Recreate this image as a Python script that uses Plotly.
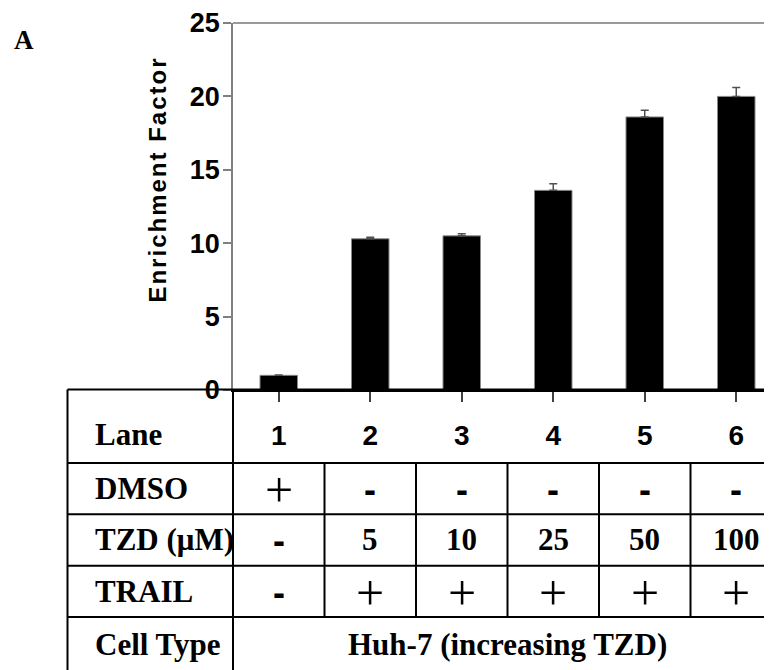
import plotly.graph_objects as go

# ---------------- data ----------------
lanes = ["1", "2", "3", "4", "5", "6"]
enrichment = [1.0, 10.3, 10.5, 13.6, 18.6, 20.0]
enrichment_err = [0.03, 0.1, 0.15, 0.45, 0.45, 0.6]
y_ticks = [0, 5, 10, 15, 20, 25]

row_labels = ["Lane", "DMSO", "TZD (μM)", "TRAIL", "Cell Type"]
dmso = ["+", "-", "-", "-", "-", "-"]
tzd = ["-", "5", "10", "25", "50", "100"]
trail = ["-", "+", "+", "+", "+", "+"]
cell_type = "Huh-7 (increasing TZD)"
panel_label = "A"
y_title = "Enrichment Factor"

# ---------------- geometry / styles ----------------
OFF = 8                      # page body margin
W, H = 772 - OFF, 670 - OFF
L, T = 233 - OFF, 15 - OFF
B = H - (390 - OFF)
PW, PH = W - L, H - T - B
CAT_PX = 91.5
SERIF = "Liberation Serif, Times New Roman, serif"
SANS = "Liberation Sans, Arial, sans-serif"


def px(xp):
    """page x pixel -> paper"""
    return (xp - OFF - L) / PW


def py(yp):
    """page y pixel -> paper"""
    return (H - B - (yp - OFF)) / PH


fig = go.Figure()
fig.add_trace(go.Bar(
    x=list(range(len(lanes))), y=enrichment,
    marker=dict(color="black", line=dict(color="#8a8a8a", width=1)),
    width=0.41,
    error_y=dict(type="data", array=enrichment_err, symmetric=False,
                 arrayminus=[0] * len(lanes), color="#505050",
                 thickness=1.5, width=4),
    showlegend=False, hoverinfo="x+y",
))

shapes = []
annotations = []
black = dict(color="black", width=2)

# top line at y max
shapes.append(dict(type="line", xref="paper", yref="paper", x0=0, x1=1, y0=1, y1=1,
                   line=dict(color="#9a9a9a", width=2)))
# table grid: horizontal lines
row_edges_px = [389.5, 464.5, 517, 569.5, 622]
for yp in row_edges_px:
    shapes.append(dict(type="line", xref="paper", yref="paper", x0=px(67.5), x1=1,
                       y0=py(yp), y1=py(yp), line=black))
# left border and label divider
for xp in (67.5, 233):
    shapes.append(dict(type="line", xref="paper", yref="paper", x0=px(xp), x1=px(xp),
                       y0=py(389.5), y1=py(680), line=black))
# column dividers for treatment rows
for i in range(len(lanes) - 1):
    shapes.append(dict(type="line", xref="x", yref="paper", x0=i + 0.5, x1=i + 0.5,
                       y0=py(row_edges_px[1]), y1=py(row_edges_px[4]), line=black))

# row labels
row_centers_px = [435, 491, 543, 596, 650]
for lab, yc in zip(row_labels, row_centers_px):
    annotations.append(dict(text="<b>" + lab + "</b>", xref="paper", yref="paper",
                            x=px(93), y=py(yc), xanchor="left", yanchor="middle",
                            showarrow=False, font=dict(family=SERIF, size=31, color="black")))


def cell(txt, i, yc):
    if txt == "+":
        return dict(text="+", xref="x", yref="paper", x=i, y=py(yc + 1), xanchor="center",
                    yanchor="middle", showarrow=False,
                    font=dict(family=SERIF, size=50, color="black"))
    if txt == "-":
        return dict(text="<b>-</b>", xref="x", yref="paper", x=i, y=py(yc + 1),
                    xanchor="center", yanchor="middle", showarrow=False,
                    font=dict(family=SANS, size=36, color="black"))
    return dict(text="<b>" + txt + "</b>", xref="x", yref="paper", x=i, y=py(yc),
                xanchor="center", yanchor="middle", showarrow=False,
                font=dict(family=SERIF, size=31, color="black"))


for r, vals in zip([1, 2, 3], [dmso, tzd, trail]):
    for i, v in enumerate(vals):
        annotations.append(cell(v, i, row_centers_px[r]))

annotations.append(dict(text="<b>" + cell_type + "</b>", xref="x", yref="paper",
                        x=(len(lanes) - 1) / 2, y=py(row_centers_px[4]),
                        xanchor="center", yanchor="middle", showarrow=False,
                        font=dict(family=SERIF, size=31, color="black")))

# panel label
annotations.append(dict(text="<b>" + panel_label + "</b>", xref="paper", yref="paper",
                        x=px(24), y=py(32), xanchor="center", yanchor="middle",
                        showarrow=False, font=dict(family=SERIF, size=27, color="black")))

# y-axis title with letter spacing
spaced = "\u200a".join(list(y_title))
annotations.append(dict(text="<b>" + spaced + "</b>", xref="paper", yref="paper",
                        x=px(158), y=py(176), xanchor="center", yanchor="middle",
                        textangle=-90, showarrow=False,
                        font=dict(family=SANS, size=24, color="black")))

fig.update_layout(
    width=W, height=H,
    margin=dict(l=L, r=0, t=T, b=B, pad=0),
    paper_bgcolor="white", plot_bgcolor="white",
    bargap=0.59,
    xaxis=dict(
        range=[-0.5, -0.5 + PW / CAT_PX],
        tickmode="array", tickvals=list(range(len(lanes))), ticktext=lanes,
        tickson="boundaries", ticks="outside", ticklen=10, tickwidth=1.5,
        tickcolor="#404040",
        showline=True, linecolor="black", linewidth=2,
        showgrid=False, zeroline=False,
        tickfont=dict(family=SANS, size=28, color="black", weight="bold"),
        ticklabelstandoff=9, ticklabeloverflow="allow",
    ),
    yaxis=dict(
        range=[0, 25], tickmode="array", tickvals=y_ticks,
        ticks="outside", ticklen=8, tickwidth=1.5, tickcolor="#808080",
        showline=True, linecolor="#808080", linewidth=1.5,
        showgrid=False, zeroline=False,
        tickfont=dict(family=SANS, size=27, color="black", weight="bold"),
        ticklabelstandoff=-2, ticklabeloverflow="allow",
    ),
    shapes=shapes,
    annotations=annotations,
)

fig.write_html("out.html")
